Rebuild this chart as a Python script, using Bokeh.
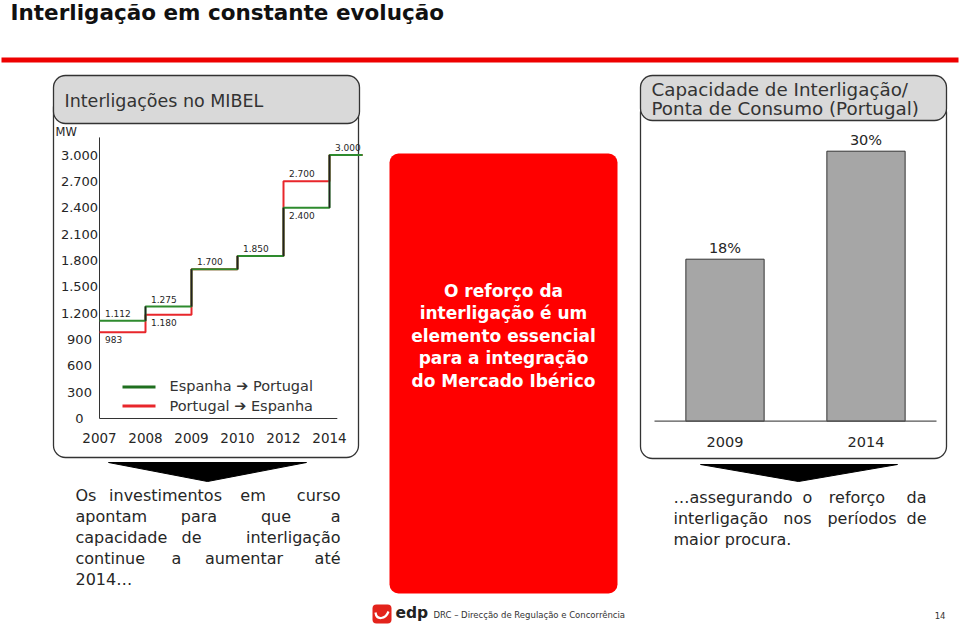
import numpy as np
from bokeh.plotting import figure
from bokeh.models import Range1d
from bokeh.core.properties import value
from bokeh.embed import file_html
from bokeh.resources import INLINE

# ---------------- data ----------------
years = ["2007", "2008", "2009", "2010", "2012", "2014"]
esp_to_por = [1112, 1275, 1700, 1850, 2400, 3000]   # Espanha -> Portugal (MW)
por_to_esp = [983, 1180, 1700, 1850, 2700, 3000]    # Portugal -> Espanha (MW)
mw_ticks = [0, 300, 600, 900, 1200, 1500, 1800, 2100, 2400, 2700, 3000]

ratio_years = ["2009", "2014"]
ratio_pct = [18, 30]

FONT = "DejaVu Sans"
TXT = "#262626"
GREEN = "#2e8b2e"
GREEN_LEG = "#1f6f1f"
RED = "#e8262b"


def fmt(v):
    return f"{v:,}".replace(",", ".")


# ---------------- canvas ----------------
W, H = 960, 628
FL, FR, FT, FB = 0, W, 0, H
p = figure(width=W, height=H, x_range=Range1d(FL, FR), y_range=Range1d(FB, FT),
           x_axis_type=None, y_axis_type=None, output_backend="svg",
           toolbar_location=None, min_border=0)
p.grid.visible = False
p.outline_line_color = None
p.background_fill_color = "white"
p.border_fill_color = "white"


def x_range_for(px0, k):
    return Range1d((FL - px0) / k, (FR - px0) / k)


def y_range_for(px0, k):
    # value v drawn at screen y = px0 - v*k
    return Range1d((px0 - FB) / k, (px0 - FT) / k)


# step chart scales
p.extra_x_ranges["yr"] = x_range_for(99, 46.0)
p.extra_y_ranges["mw"] = y_range_for(418, 263.5 / 3000)
# bar chart scales
p.extra_x_ranges["bx"] = x_range_for(724.5, 141.0)
p.extra_y_ranges["pct"] = y_range_for(420.7, 9.0)

# ---------------- title ----------------
p.text(x=[10], y=[12], text=["Interligação em constante evolução"],
       text_font=value(FONT), text_font_style="bold", text_font_size="21.5px",
       text_color="#111111", text_baseline="middle", text_align="left")
p.quad(left=[1], right=[958], top=[57], bottom=[62], fill_color="#ee0000", line_color=None)

# ---------------- left panel ----------------
p.quad(left=[53], right=[358], top=[95], bottom=[457], fill_color="white",
       line_color="#333333", line_width=1.3, border_radius=12)
p.quad(left=[53], right=[359], top=[75], bottom=[123], fill_color="#d9d9d9",
       line_color="#333333", line_width=1.3, border_radius=12)
p.text(x=[64], y=[100], text=["Interligações no MIBEL"], text_font=value(FONT),
       text_font_size="17.5px", text_color="#333333", text_baseline="middle")

p.text(x=[55], y=[131], text=["MW"], text_font=value(FONT), text_font_size="11.5px",
       text_color=TXT, text_baseline="middle")

# axes lines
p.line(x=[0, 0], y=[0, 3200], x_range_name="yr", y_range_name="mw",
       line_color="#333333", line_width=1)
p.line(x=[0, 5.17], y=[0, 0], x_range_name="yr", y_range_name="mw",
       line_color="#333333", line_width=1)

# tick labels
p.text(x=[79] * len(mw_ticks), y=mw_ticks, text=[fmt(t) for t in mw_ticks],
       y_range_name="mw", text_font=value(FONT), text_font_size="13px",
       text_color=TXT, text_align="center", text_baseline="middle")
p.text(x=list(range(len(years))), y=[0] * len(years), text=years,
       x_range_name="yr", y_range_name="mw", y_offset=19,
       text_font=value(FONT), text_font_size="13.5px", text_color=TXT,
       text_align="center", text_baseline="middle")


def step_path(vals, ext=0.72):
    xs, ys = [], []
    n = len(vals)
    for i, v in enumerate(vals):
        xe = i + 1 if i < n - 1 else i + ext
        xs += [i, xe]
        ys += [v, v]
    return xs, ys


rx, ry = step_path(por_to_esp)
gx, gy = step_path(esp_to_por)
p.line(x=rx, y=ry, x_range_name="yr", y_range_name="mw", line_color=RED, line_width=2)
p.line(x=gx, y=gy, x_range_name="yr", y_range_name="mw", line_color=GREEN, line_width=2)
# risers of the Espanha->Portugal series in dark
rise_x = list(range(1, len(esp_to_por)))
p.segment(x0=rise_x, x1=rise_x, y0=esp_to_por[:-1], y1=esp_to_por[1:],
          x_range_name="yr", y_range_name="mw", line_color="#222222", line_width=1.6)

# value labels
ab_x, ab_y, ab_t, be_x, be_y, be_t = [], [], [], [], [], []
for i, (g, r) in enumerate(zip(esp_to_por, por_to_esp)):
    hi, lo = max(g, r), min(g, r)
    ab_x.append(i + 0.12); ab_y.append(hi); ab_t.append(fmt(hi))
    if g != r:
        be_x.append(i + 0.12); be_y.append(lo); be_t.append(fmt(lo))
p.text(x=ab_x, y=ab_y, text=ab_t, x_range_name="yr", y_range_name="mw", y_offset=-4,
       text_font=value(FONT), text_font_size="9px", text_color=TXT,
       text_baseline="bottom", text_align="left")
p.text(x=be_x, y=be_y, text=be_t, x_range_name="yr", y_range_name="mw", y_offset=4,
       text_font=value(FONT), text_font_size="9px", text_color=TXT,
       text_baseline="top", text_align="left")

# legend
p.line(x=[122, 155], y=[386.5, 386.5], line_color=GREEN_LEG, line_width=3)
p.line(x=[122, 155], y=[405.5, 405.5], line_color=RED, line_width=3)
p.text(x=[169, 169], y=[385.5, 405.5], text=["Espanha ➔ Portugal", "Portugal ➔ Espanha"],
       text_font=value(FONT), text_font_size="14.5px", text_color="#333333",
       text_baseline="middle")

# arrows
p.patch(x=[108, 306, 207], y=[462, 462, 481], fill_color="black", line_color="black")
p.patch(x=[700, 897, 798], y=[464, 464, 481], fill_color="black", line_color="black")

# ---------------- middle red box ----------------
p.quad(left=[389], right=[617], top=[153], bottom=[593], fill_color="#ff0000",
       line_color=None, border_radius=9)
mid_lines = ["O reforço da", "interligação é um", "elemento essencial",
             "para a integração", "do Mercado Ibérico"]
p.text(x=[503] * 5, y=[290, 312.5, 335, 357.5, 380], text=mid_lines,
       text_font=value(FONT), text_font_style="bold", text_font_size="17px",
       text_color="white", text_align="center", text_baseline="middle")

# ---------------- right panel ----------------
p.quad(left=[640], right=[946], top=[100], bottom=[458], fill_color="white",
       line_color="#333333", line_width=1.3, border_radius=12)
p.quad(left=[640], right=[946], top=[75], bottom=[120], fill_color="#d9d9d9",
       line_color="#333333", line_width=1.3, border_radius=12)
p.text(x=[651, 651], y=[88.5, 108], text=["Capacidade de Interligação/", "Ponta de Consumo (Portugal)"],
       text_font=value(FONT), text_font_size="18.3px", text_color="#333333",
       text_baseline="middle")

bx = list(range(len(ratio_pct)))
p.vbar(x=bx, top=ratio_pct, bottom=0, width=0.555, x_range_name="bx", y_range_name="pct",
       fill_color="#a6a6a6", line_color="#333333", line_width=1)
p.line(x=[-0.5, 1.5], y=[0, 0], x_range_name="bx", y_range_name="pct",
       line_color="#555555", line_width=1.2)
p.text(x=bx, y=ratio_pct, text=[f"{v}%" for v in ratio_pct], x_range_name="bx",
       y_range_name="pct", y_offset=-3, text_font=value(FONT), text_font_size="14.5px",
       text_color=TXT, text_align="center", text_baseline="bottom")
p.text(x=bx, y=[0, 0], text=ratio_years, x_range_name="bx", y_range_name="pct",
       y_offset=21, text_font=value(FONT), text_font_size="14.5px",
       text_color=TXT, text_align="center", text_baseline="middle")

# ---------------- bottom texts (justified) ----------------
def put_line(words, y, xl, xr, centers):
    p.text(x=[xl], y=[y], text=[words[0]], text_font=value(FONT), text_font_size="16px",
           text_color=TXT, text_align="left", text_baseline="middle")
    if len(words) > 1:
        p.text(x=[xr], y=[y], text=[words[-1]], text_font=value(FONT), text_font_size="16px",
               text_color=TXT, text_align="right", text_baseline="middle")
    for w, c in zip(words[1:-1], centers):
        p.text(x=[c], y=[y], text=[w], text_font=value(FONT), text_font_size="16px",
               text_color=TXT, text_align="center", text_baseline="middle")


put_line(["Os", "investimentos", "em", "curso"], 495, 75, 340, [165, 252.5])
put_line(["apontam", "para", "que", "a"], 516, 75, 340, [198.5, 275.5])
put_line(["capacidade", "de", "interligação"], 537, 75, 340, [191])
put_line(["continue", "a", "aumentar", "até"], 557.5, 75, 340, [176, 243.5])
put_line(["2014…"], 578.5, 75, 340, [])

put_line(["…assegurando", "o", "reforço", "da"], 497, 673, 926, [807, 856.5])
put_line(["interligação", "nos", "períodos", "de"], 518, 673, 926, [797, 861.5])
put_line(["maior procura."], 539, 673, 926, [])

# ---------------- footer ----------------
p.quad(left=[372], right=[391], top=[604], bottom=[623], fill_color="#e3231b",
       line_color=None, border_radius=4)
p.bezier(x0=[375], y0=[612], x1=[388], y1=[611], cx0=[376], cy0=[620], cx1=[385], cy1=[619],
         line_color="white", line_width=2.2)
p.text(x=[395], y=[612.5], text=["edp"], text_font=value(FONT), text_font_style="bold",
       text_font_size="15.5px", text_color="#222222", text_baseline="middle")
p.text(x=[433], y=[614.5], text=["DRC – Direcção de Regulação e Concorrência"],
       text_font=value(FONT), text_font_size="8.5px", text_color="#333333",
       text_baseline="middle")
p.text(x=[945], y=[614.5], text=["14"], text_font=value(FONT), text_font_size="8.5px",
       text_color="#333333", text_baseline="middle", text_align="right")

open("out.html", "w").write(file_html(p, INLINE))
